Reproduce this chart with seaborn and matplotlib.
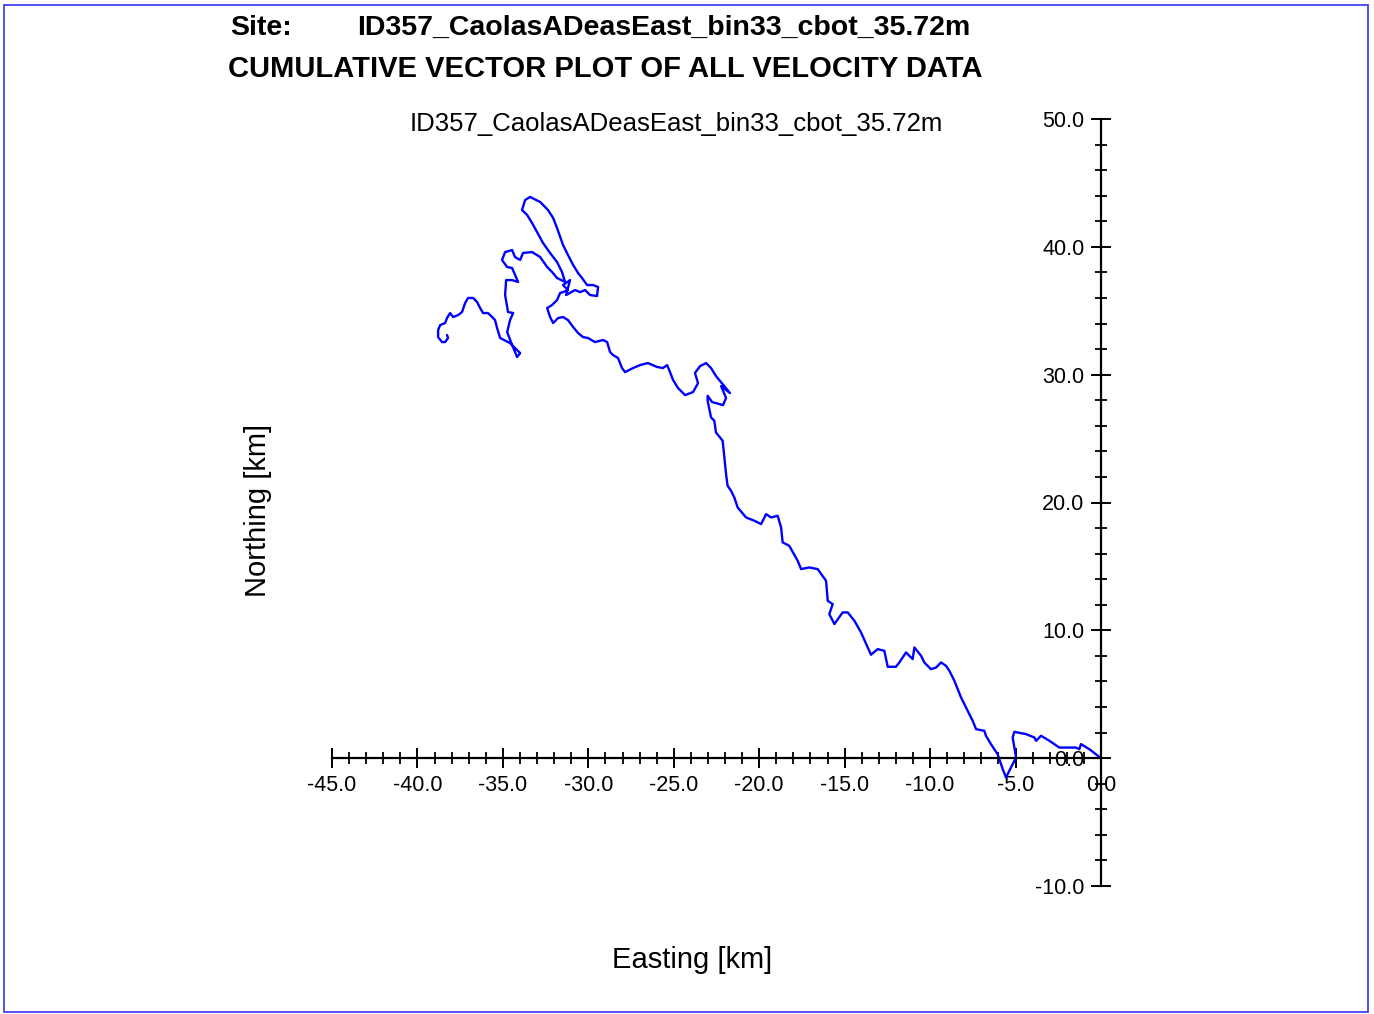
import numpy as np
import pandas as pd
import matplotlib
matplotlib.use('Agg')
import matplotlib.pyplot as plt
import seaborn as sns
from matplotlib.ticker import MultipleLocator, FormatStrFormatter
from matplotlib.patches import Rectangle

SITE = 'ID357_CaolasADeasEast_bin33_cbot_35.72m'

# cumulative displacement (km)
easting = [
    0.00, -0.68, -1.17, -1.27, -1.46, -2.44, -3.02, -3.51, -3.80, -3.90,
    -4.39, -5.07, -5.17, -4.97, -5.17, -5.56, -5.75, -6.05, -6.44, -6.73,
    -6.83, -7.31, -7.51, -7.80, -8.19, -8.58, -8.87, -9.07, -9.36, -9.65,
    -9.95, -10.34, -10.53, -10.92, -11.02, -11.41, -11.80, -12.00, -12.48, -12.68,
    -13.07, -13.46, -13.65, -14.04, -14.43, -14.82, -15.12, -15.60, -15.90, -15.70,
    -15.99, -16.09, -16.58, -17.07, -17.55, -17.75, -18.24, -18.63, -18.72, -18.92,
    -19.31, -19.60, -19.89, -20.28, -20.77, -21.26, -21.46, -21.65, -21.85, -21.94,
    -22.04, -22.14, -22.53, -22.63, -22.82, -23.02, -23.02,
    -22.76, -22.12, -21.94, -22.23, -21.71, -22.53, -22.82, -23.11, -23.46, -23.76,
    -23.58, -23.87, -24.34, -24.75, -25.04, -25.22, -25.39, -25.63, -25.98, -26.51,
    -26.97, -27.38, -27.85, -28.03, -28.26, -28.55, -28.73, -28.90, -29.14, -29.61,
    -30.02, -30.31, -30.60, -30.89, -31.19, -31.48, -31.77, -32.06, -32.24, -32.41,
    -32.12, -31.83, -31.65, -31.48,
    -31.19, -31.48, -31.07, -31.30, -30.78, -30.48, -30.19, -29.90, -29.49, -29.43,
    -29.72, -30.07, -30.37, -30.60, -30.89, -31.19, -31.48, -31.83, -32.06, -32.36,
    -32.82, -33.41, -33.70, -33.88, -33.58, -33.29, -33.00, -32.65, -32.24, -31.83,
    -31.54, -31.36, -31.83, -32.12, -32.41, -32.82, -33.29, -33.82, -33.99, -34.29,
    -34.46, -34.87, -35.05, -34.75, -34.46, -34.29, -34.11, -34.46, -34.81, -34.87,
    -34.70, -34.40, -34.58, -34.75, -34.46, -34.17, -33.99, -34.58, -35.16, -35.34,
    -35.46, -35.63, -35.87, -36.16, -36.33, -36.51, -36.74, -37.04, -37.21, -37.39,
    -37.62, -37.91, -38.09, -38.27, -38.38, -38.67, -38.79, -38.79, -38.56, -38.38,
    -38.21, -38.27,
]
northing = [
    0.00, 0.70, 1.10, 0.70, 0.83, 0.83, 1.36, 1.75, 1.36, 1.62,
    1.88, 2.06, 1.62, 0.05, -0.47, -1.51, -0.86, 0.31, 1.10, 1.75,
    2.14, 2.27, 2.92, 3.70, 4.75, 6.05, 6.83, 7.22, 7.49, 7.09,
    6.96, 7.49, 8.01, 8.66, 7.75, 8.27, 7.49, 7.15, 7.15, 8.40,
    8.53, 8.09, 8.66, 9.83, 10.75, 11.40, 11.40, 10.49, 11.27, 12.05,
    12.31, 13.88, 14.79, 14.92, 14.79, 15.44, 16.61, 16.88, 18.05, 18.96,
    18.83, 19.09, 18.31, 18.57, 18.83, 19.61, 20.40, 20.92, 21.31, 22.22,
    23.53, 24.83, 25.48, 26.40, 26.66, 27.96, 28.35,
    27.86, 27.62, 28.17, 29.11, 28.56, 29.89, 30.52, 30.91, 30.67, 30.13,
    29.34, 28.64, 28.40, 28.95, 29.58, 30.20, 30.75, 30.52, 30.60, 30.91,
    30.75, 30.52, 30.20, 30.52, 31.30, 31.53, 31.77, 32.55, 32.71, 32.55,
    32.87, 32.94, 33.26, 33.73, 34.27, 34.51, 34.43, 34.04, 34.51, 35.21,
    35.45, 35.84, 36.39, 36.46,
    36.62, 37.01, 37.40, 36.23, 36.62, 36.46, 36.62, 36.23, 36.15, 36.86,
    37.01, 37.01, 37.56, 37.95, 38.58, 39.36, 40.14, 41.47, 42.26, 42.88,
    43.51, 43.90, 43.66, 42.88, 42.49, 41.86, 41.16, 40.30, 39.52, 38.81,
    38.03, 37.25, 37.56, 38.03, 38.42, 39.20, 39.59, 39.52, 38.97, 39.20,
    39.75, 39.59, 38.97, 38.42, 38.34, 37.80, 37.25, 37.40, 37.40, 36.23,
    34.90, 34.82, 34.27, 33.33, 32.32, 31.38, 31.69, 32.47, 32.87, 33.65,
    34.27, 34.51, 34.82, 34.82, 35.21, 35.68, 36.00, 36.00, 35.60, 34.90,
    34.66, 34.51, 34.82, 34.43, 34.04, 33.88, 33.49, 32.94, 32.55, 32.55,
    32.87, 33.10,
]

sns.set_style('white')
plt.rcParams['font.family'] = ['Liberation Sans', 'DejaVu Sans']
plt.rcParams['text.color'] = 'black'

W, H = 1374, 1014
fig = plt.figure(figsize=(W / 100, H / 100), dpi=100)
ax = fig.add_axes([332 / W, 1 - 886 / H, 769 / W, 767 / H])

track = pd.DataFrame({'Easting': easting, 'Northing': northing})
sns.lineplot(data=track, x='Easting', y='Northing', sort=False, estimator=None,
             color='#0000ff', linewidth=1.7, legend=False, ax=ax)

ax.set_xlim(-45, 0)
ax.set_ylim(-10, 50)
ax.set_xlabel('')
ax.set_ylabel('')

# axes crossing at the origin
ax.spines['left'].set_position(('data', 0))
ax.spines['bottom'].set_position(('data', 0))
ax.spines['top'].set_visible(False)
ax.spines['right'].set_visible(False)
for s in ('left', 'bottom'):
    ax.spines[s].set_linewidth(1.6)
    ax.spines[s].set_color('black')

ax.xaxis.set_major_locator(MultipleLocator(5))
ax.xaxis.set_minor_locator(MultipleLocator(1))
ax.yaxis.set_major_locator(MultipleLocator(10))
ax.yaxis.set_minor_locator(MultipleLocator(2))
ax.xaxis.set_major_formatter(FormatStrFormatter('%.1f'))
ax.yaxis.set_major_formatter(FormatStrFormatter('%.1f'))
ax.tick_params(which='both', bottom=True, left=True, top=False, right=False)
ax.tick_params(which='major', direction='inout', length=14, width=1.4,
               color='black', labelcolor='black', labelsize=15.5, pad=5)
ax.tick_params(which='minor', direction='inout', length=8, width=1.3, color='black')

fig.text(692 / W, 1 - 960 / H, 'Easting [km]', ha='center', va='center', fontsize=21)
fig.text(258 / W, 1 - 510 / H, 'Northing [km]', ha='center', va='center',
         rotation=90, fontsize=21)
fig.text(676 / W, 1 - 124 / H, SITE, ha='center', va='center', fontsize=18.5)

fig.text(230 / W, 1 - 28 / H, 'Site:', ha='left', va='center', fontsize=20.5,
         fontweight='bold')
fig.text(357 / W, 1 - 28 / H, SITE, ha='left', va='center', fontsize=20.5,
         fontweight='bold')
fig.text(228 / W, 1 - 69 / H, 'CUMULATIVE VECTOR PLOT OF ALL VELOCITY DATA',
         ha='left', va='center', fontsize=21, fontweight='bold')

fig.patches.append(Rectangle((4 / W, 2 / H), 1364 / W, 1007 / H, transform=fig.transFigure,
                             fill=False, edgecolor='#3333ee', linewidth=1.2))

fig.savefig('out.png', dpi=100)
